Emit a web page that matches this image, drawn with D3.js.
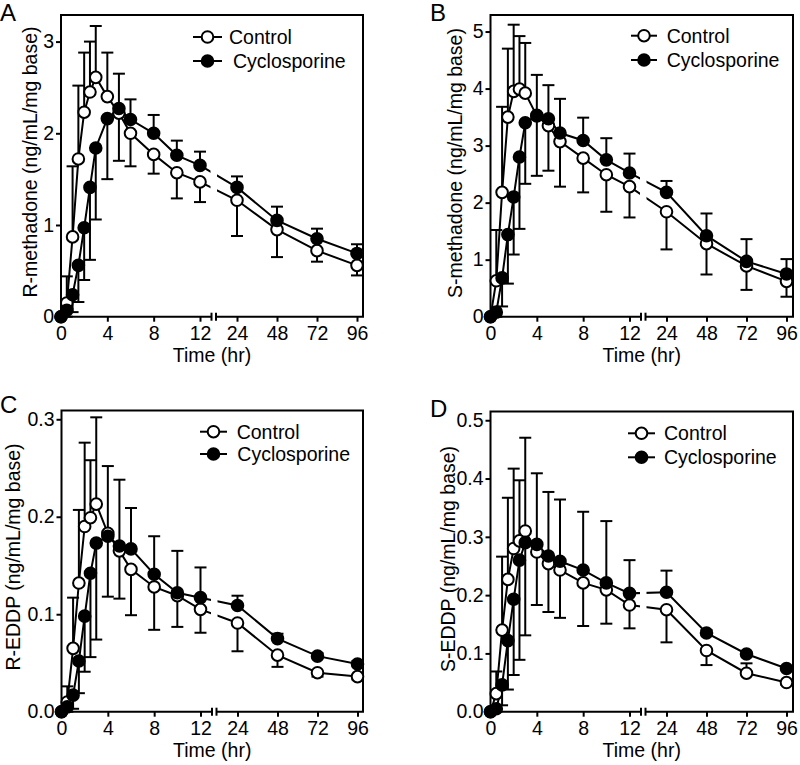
<!DOCTYPE html>
<html><head><meta charset="utf-8">
<script src="https://cdn.jsdelivr.net/npm/d3@7/dist/d3.min.js"></script>
<style>
body{margin:0;background:#fff;}
svg{display:block;font-family:"Liberation Sans",Arial,sans-serif;}
</style></head>
<body>
<svg id="chart" width="800" height="765"></svg>
<script>
// ---- data ----
const times = [0, 0.5, 1, 1.5, 2, 2.5, 3, 4, 5, 6, 8, 10, 12, 24, 48, 72, 96];
const xTicks = [0, 4, 8, 12, 24, 48, 72, 96];
const seriesNames = ["Control", "Cyclosporine"];

// Panel A: R-methadone
const rMethControl = [0, 0.15, 0.87, 1.72, 2.23, 2.45, 2.61, 2.40, 2.22, 2.00, 1.77, 1.57, 1.47, 1.27, 0.95, 0.72, 0.56];
const rMethControlErr = [0, 0.29, 0.77, 0.80, 0.65, 0.55, 0.56, 0.48, -0.52, -0.36, -0.21, -0.28, -0.22, -0.39, -0.30, -0.12, -0.11];
const rMethCyclo = [0, 0.07, 0.24, 0.56, 0.97, 1.41, 1.84, 2.16, 2.27, 2.15, 2.00, 1.76, 1.65, 1.41, 1.05, 0.85, 0.69];
const rMethCycloErr = [0, -0.07, -0.19, -0.40, -0.57, -0.79, -0.78, -0.66, 0.38, 0.22, 0.20, 0.16, 0.15, 0.12, 0.15, 0.11, 0.10];
const rMethTicks = [0, 1, 2, 3];

// Panel B: S-methadone
const sMethControl = [0, 0.63, 2.18, 3.50, 3.95, 3.99, 3.92, 3.52, 3.35, 3.07, 2.78, 2.49, 2.28, 1.84, 1.28, 0.89, 0.62];
const sMethControlErr = [0, 0.89, 1.50, 1.20, 1.17, 0.93, 0.88, 0.72, -0.79, -0.79, -0.60, -0.65, -0.54, -0.66, -0.54, -0.42, -0.27];
const sMethCyclo = [0, 0.08, 0.68, 1.44, 2.10, 2.80, 3.40, 3.53, 3.47, 3.22, 3.09, 2.75, 2.52, 2.18, 1.42, 0.97, 0.75];
const sMethCycloErr = [0, -0.08, -0.50, -0.86, -1.01, -1.26, -1.07, -1.06, 0.59, 0.60, 0.40, 0.38, 0.34, 0.20, 0.39, 0.39, 0.26];
const sMethTicks = [0, 1, 2, 3, 4, 5];

// Panel C: R-EDDP
const rEddpControl = [0, 0.010, 0.065, 0.132, 0.190, 0.199, 0.213, 0.183, 0.165, 0.146, 0.128, 0.119, 0.105, 0.091, 0.058, 0.040, 0.036];
const rEddpControlErr = [0, 0.016, 0.052, 0.075, 0.086, 0.059, 0.089, 0.069, -0.049, -0.047, -0.044, -0.032, -0.024, -0.029, -0.012, -0.004, -0.003];
const rEddpCyclo = [0, 0.005, 0.017, 0.052, 0.098, 0.142, 0.173, 0.180, 0.170, 0.167, 0.141, 0.122, 0.117, 0.109, 0.075, 0.057, 0.049];
const rEddpCycloErr = [0, -0.005, -0.014, -0.033, -0.057, -0.086, -0.099, -0.062, 0.068, 0.042, 0.039, 0.043, 0.031, 0.010, 0.005, 0.003, 0.003];
const rEddpTicks = [0, 0.1, 0.2, 0.3];

// Panel D: S-EDDP
const sEddpControl = [0, 0.031, 0.140, 0.227, 0.280, 0.293, 0.310, 0.274, 0.254, 0.243, 0.221, 0.209, 0.183, 0.175, 0.105, 0.066, 0.050];
const sEddpControlErr = [0, 0.038, 0.126, 0.140, 0.137, 0.104, 0.160, -0.091, -0.083, -0.082, -0.074, -0.058, -0.040, -0.056, -0.025, 0.017, -0.004];
const sEddpCyclo = [0, 0.005, 0.046, 0.122, 0.193, 0.260, 0.290, 0.287, 0.267, 0.258, 0.243, 0.221, 0.203, 0.205, 0.135, 0.099, 0.074];
const sEddpCycloErr = [0, -0.005, -0.035, -0.084, -0.130, -0.171, -0.159, 0.122, 0.110, 0.106, 0.100, 0.106, 0.057, 0.037, 0.005, 0.003, 0.004];
const sEddpTicks = [0, 0.1, 0.2, 0.3, 0.4, 0.5];

// ---- layout ----
const panels = [
  {letter:"A", lx:0, ly:21, left:61, top:15, width:302, bottom:316.7, yMax:3.29, ticks:rMethTicks, fmt:d3.format("d"),
   title:"R-methadone (ng/mL/mg base)", tx:36.7, ty:162,
   ctrl:rMethControl, ctrlErr:rMethControlErr, cyc:rMethCyclo, cycErr:rMethCycloErr,
   leg:{x1:193, x2:222, y1:37, y2:61, t1:229, t2:233}},
  {letter:"B", lx:430, ly:21, left:490.5, top:15, width:302.5, bottom:316.7, yMax:5.29, ticks:sMethTicks, fmt:d3.format("d"),
   title:"S-methadone (ng/mL/mg base)", tx:461.7, ty:163,
   ctrl:sMethControl, ctrlErr:sMethControlErr, cyc:sMethCyclo, cycErr:sMethCycloErr,
   leg:{x1:631, x2:657, y1:35.7, y2:60, t1:666.7, t2:666.7}},
  {letter:"C", lx:0, ly:413, left:61.5, top:410.5, width:301.5, bottom:711.7, yMax:0.309, ticks:rEddpTicks, fmt:d3.format(".1f"),
   title:"R-EDDP (ng/mL/mg base)", tx:20, ty:557,
   ctrl:rEddpControl, ctrlErr:rEddpControlErr, cyc:rEddpCyclo, cycErr:rEddpCycloErr,
   leg:{x1:200, x2:227, y1:431.7, y2:454, t1:236.7, t2:237.3}},
  {letter:"D", lx:430, ly:417, left:490.5, top:411.5, width:302.5, bottom:711.7, yMax:0.515, ticks:sEddpTicks, fmt:d3.format(".1f"),
   title:"S-EDDP (ng/mL/mg base)", tx:455, ty:559,
   ctrl:sEddpControl, ctrlErr:sEddpControlErr, cyc:sEddpCyclo, cycErr:sEddpCycloErr,
   leg:{x1:628, x2:655, y1:433.3, y2:457.3, t1:664, t2:664}}
];

const FONT = 19.5, SW = 2, R = 5.8, CAP = 6;
const svg = d3.select("#chart");

panels.forEach((p, pi) => {
  const x = d3.scaleLinear().domain([0, 12, 24, 96])
    .range([p.left, p.left + 139, p.left + 176, p.left + 296]);
  const y = d3.scaleLinear().domain([0, p.yMax]).range([p.bottom, p.top]);
  const right = p.left + p.width;
  const bx1 = x(12) + 11.5, bx2 = x(12) + 16;
  const g = svg.append("g");

  // clip for break gap
  const cid = "clip" + pi;
  const cp = svg.append("defs").append("clipPath").attr("id", cid);
  cp.append("rect").attr("x", 0).attr("y", 0).attr("width", bx1 - 1).attr("height", 765);
  cp.append("rect").attr("x", bx2 + 1).attr("y", 0).attr("width", 800 - bx2).attr("height", 765);

  // y axis ticks
  const ya = d3.axisLeft(y).tickValues(p.ticks).tickFormat(p.fmt).tickSize(5).tickPadding(2);
  const yg = g.append("g").attr("transform", `translate(${p.left},0)`).call(ya);
  yg.select(".domain").remove();
  yg.selectAll("line").attr("stroke", "#000").attr("stroke-width", SW);
  yg.selectAll("text").attr("font-size", FONT).attr("fill", "#000").attr("font-family", "Liberation Sans, Arial, sans-serif");

  // x axis ticks
  const xa = d3.axisBottom(x).tickValues(xTicks).tickFormat(d3.format("d")).tickSize(5).tickPadding(4);
  const xg = g.append("g").attr("transform", `translate(0,${p.bottom})`).call(xa);
  xg.select(".domain").remove();
  xg.selectAll("line").attr("stroke", "#000").attr("stroke-width", SW);
  xg.selectAll("text").attr("font-size", FONT).attr("fill", "#000").attr("font-family", "Liberation Sans, Arial, sans-serif");

  // frame
  const fr = g.append("g").attr("stroke", "#000").attr("stroke-width", SW).attr("fill", "none");
  fr.append("path").attr("d", `M${bx1},${p.bottom}H${p.left}V${p.top}H${right}V${p.bottom}H${bx2}`);
  fr.append("line").attr("x1", bx1).attr("x2", bx1).attr("y1", p.bottom - 4).attr("y2", p.bottom + 4);
  fr.append("line").attr("x1", bx2).attr("x2", bx2).attr("y1", p.bottom - 4).attr("y2", p.bottom + 4);

  // axis titles
  g.append("text").attr("x", (p.left + right) / 2).attr("y", p.bottom + 45.5)
    .attr("text-anchor", "middle").attr("font-size", FONT).text("Time (hr)");
  g.append("text").attr("transform", `translate(${p.tx},${p.ty}) rotate(-90)`)
    .attr("text-anchor", "middle").attr("font-size", FONT).text(p.title);
  g.append("text").attr("x", p.lx).attr("y", p.ly).attr("font-size", 24).text(p.letter);

  const series = [
    {vals:p.ctrl, err:p.ctrlErr, fill:"#fff"},
    {vals:p.cyc, err:p.cycErr, fill:"#000"}
  ];
  const line = d3.line().x((d, i) => x(times[i])).y(d => y(d));

  // lines
  const lg = g.append("g").attr("clip-path", `url(#${cid})`);
  series.forEach(s => {
    lg.append("path").attr("d", line(s.vals)).attr("fill", "none")
      .attr("stroke", "#000").attr("stroke-width", SW);
  });
  // error bars
  series.forEach(s => {
    const eg = g.append("g").attr("stroke", "#000").attr("stroke-width", SW);
    s.vals.forEach((v, i) => {
      const e = s.err[i];
      if (!e) return;
      const xx = x(times[i]), y0 = y(v), y1 = y(v + e);
      eg.append("line").attr("x1", xx).attr("x2", xx).attr("y1", y0).attr("y2", y1);
      eg.append("line").attr("x1", xx - CAP).attr("x2", xx + CAP).attr("y1", y1).attr("y2", y1);
    });
  });
  // markers
  series.forEach(s => {
    g.append("g").selectAll("circle").data(s.vals).join("circle")
      .attr("cx", (d, i) => x(times[i])).attr("cy", d => y(d)).attr("r", R)
      .attr("fill", s.fill).attr("stroke", "#000").attr("stroke-width", SW);
  });

  // legend
  const L = p.leg;
  [[L.y1, L.t1, "#fff", seriesNames[0]], [L.y2, L.t2, "#000", seriesNames[1]]].forEach(([ly, tx, fill, name]) => {
    g.append("line").attr("x1", L.x1).attr("x2", L.x2).attr("y1", ly).attr("y2", ly)
      .attr("stroke", "#000").attr("stroke-width", SW);
    g.append("circle").attr("cx", (L.x1 + L.x2) / 2).attr("cy", ly).attr("r", R)
      .attr("fill", fill).attr("stroke", "#000").attr("stroke-width", SW);
    g.append("text").attr("x", tx).attr("y", ly + 6.8).attr("font-size", FONT).text(name);
  });
});
</script>
</body></html>
